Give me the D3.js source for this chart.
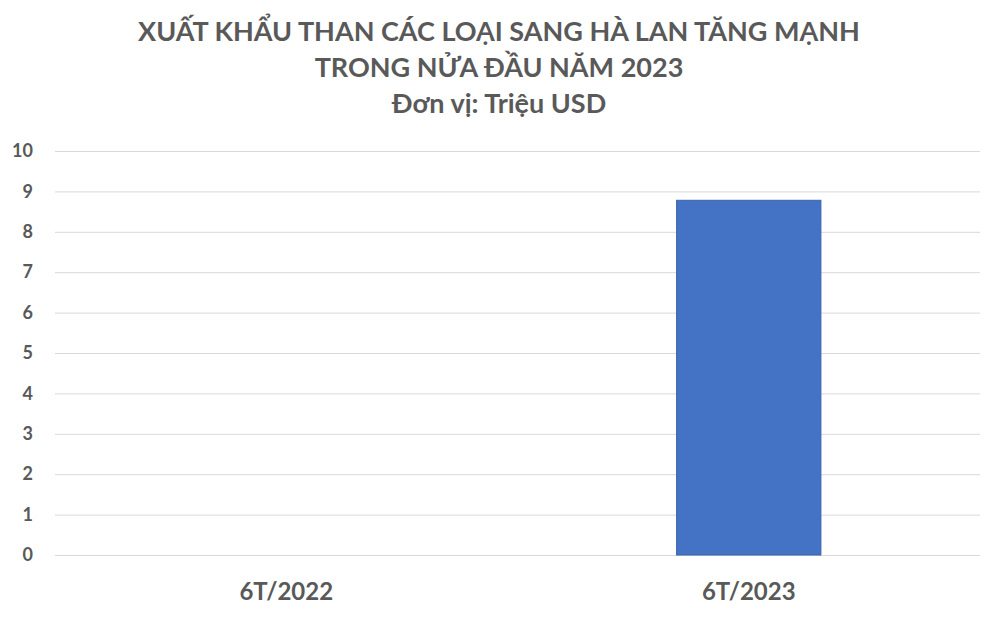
<!DOCTYPE html>
<html>
<head>
<meta charset="utf-8">
<script src="https://cdn.jsdelivr.net/npm/d3@7"></script>
<style>
  body { margin: 0; background: #fff; }
  text { font-family: Lato, "Open Sans", sans-serif; font-weight: bold; fill: #595959; }
</style>
</head>
<body>
<svg id="chart"></svg>
<script>
var categories = ["6T/2022", "6T/2023"];
var values = [0, 8.78];
var yTicks = [0, 1, 2, 3, 4, 5, 6, 7, 8, 9, 10];
var titleLines = ["XUẤT KHẨU THAN CÁC LOẠI SANG HÀ LAN TĂNG MẠNH", "TRONG NỬA ĐẦU NĂM 2023", "Đơn vị: Triệu USD"];

var svgWidth = 1000;
var svgHeight = 618;
var margin = {top: 151, right: 20, bottom: 63, left: 55};
var width = svgWidth - margin.left - margin.right;
var height = svgHeight - margin.top - margin.bottom;

var svg = d3.select("#chart")
    .attr("width", svgWidth)
    .attr("height", svgHeight);

// title
svg.selectAll("text.title")
    .data(titleLines)
    .enter()
    .append("text")
    .attr("class", "title")
    .attr("x", svgWidth / 2 - 1)
    .attr("y", function(d, i) { return 41 + i * 36; })
    .attr("text-anchor", "middle")
    .style("font-size", "27px")
    .text(function(d) { return d; });

var g = svg.append("g")
    .attr("transform", "translate(" + margin.left + "," + margin.top + ")");

var x = d3.scaleBand()
    .domain(categories)
    .range([0, width])
    .padding(0);

var y = d3.scaleLinear()
    .domain([0, 10])
    .range([height, 0]);

// gridlines
var yAxis = d3.axisLeft(y)
    .tickValues(yTicks)
    .tickSize(-width)
    .tickPadding(22)
    .tickFormat(d3.format("d"));

var ya = g.append("g").call(yAxis);
ya.select(".domain").remove();
ya.selectAll(".tick line").attr("stroke", "#d9d9d9").attr("stroke-width", 1);
ya.selectAll(".tick text").style("font-size", "18px").attr("fill", "#595959");

// bars
var barFrac = 0.312;
g.selectAll("rect.bar")
    .data(values)
    .enter()
    .append("rect")
    .attr("class", "bar")
    .attr("x", function(d, i) { return x(categories[i]) + x.bandwidth() * (1 - barFrac) / 2; })
    .attr("width", x.bandwidth() * barFrac)
    .attr("y", function(d) { return y(d); })
    .attr("height", function(d) { return height - y(d); })
    .attr("fill", "#4472c4")
    .attr("stroke", function(d) { return d > 0 ? "#3a63ad" : "none"; })
    .attr("stroke-width", 1);

// x labels
var xAxis = d3.axisBottom(x).tickSize(0).tickPadding(28);
var xa = g.append("g")
    .attr("transform", "translate(0," + height + ")")
    .call(xAxis);
xa.select(".domain").remove();
xa.selectAll(".tick text").style("font-size", "24px").attr("fill", "#595959");
</script>
</body>
</html>
